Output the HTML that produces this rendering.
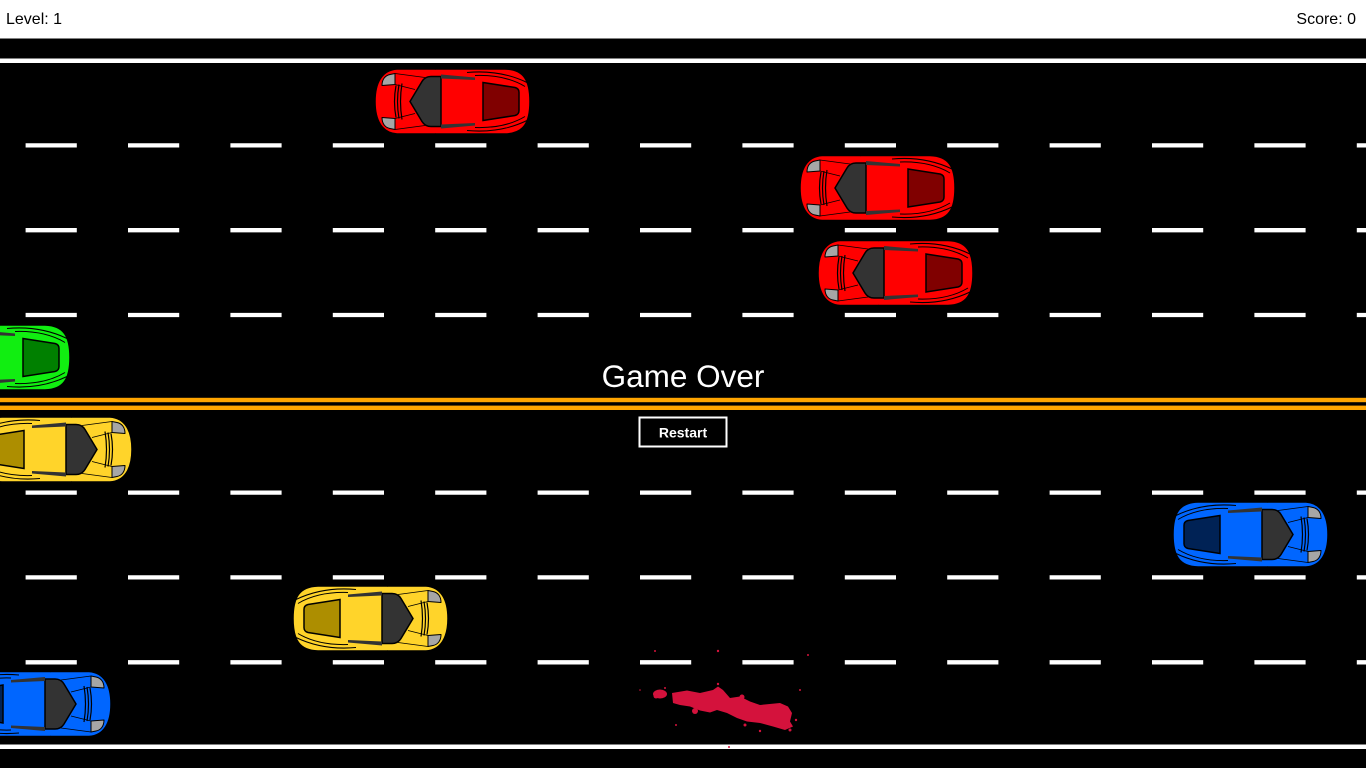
<!DOCTYPE html>
<html><head><meta charset="utf-8"><style>
html,body{margin:0;padding:0;width:1366px;height:768px;overflow:hidden;background:#000}
svg{display:block}
</style></head><body>
<svg width="1366" height="768" viewBox="0 0 1366 768" xmlns="http://www.w3.org/2000/svg">
<defs>
<g id="car">
 <path d="M22,0.5 C7,1.5 0,14 0,33 C0,52 7,64.5 22,65.5 L130,65.5 C149,65 155,54 155,33 C155,12 149,1 130,0.5 Z" style="fill:currentColor" stroke="#000" stroke-width="1.5"/>
 <path d="M7,17 C7,11 10,7 15,6 L20,5 L20,16 Z" fill="#a6a6a6" stroke="#000" stroke-width="1" stroke-linejoin="round"/>
 <path d="M7,49 C7,55 10,59 15,60 L20,61 L20,50 Z" fill="#a6a6a6" stroke="#000" stroke-width="1" stroke-linejoin="round"/>
 <path d="M21,17 Q18,33 21,49 M24,16 Q21,33 24,50 M27,15 Q24,33 27,51" fill="none" stroke="#000" stroke-width="1.2"/>
 <path d="M20,16 L40,21 M20,50 L40,45 M20,5 L50,9 M20,61 L50,57" fill="none" stroke="#000" stroke-width="0.8"/>
 <path d="M35,33 L47,13 Q50,8 56,8 L66,8 L66,58 L56,58 Q50,58 47,53 Z" fill="#333" stroke="#000" stroke-width="1.5"/>
 <path d="M66,6 L100,9 L100,11.5 L66,10 Z" fill="#333"/>
 <path d="M66,60 L100,57 L100,54.5 L66,56 Z" fill="#333"/>
 <path d="M108,14 L140,19 Q144,20 144,24 L144,42 Q144,46 140,47 L108,52 Z" style="fill:var(--rear)" stroke="#000" stroke-width="1.5"/>
 <path d="M92,4 Q125,1 152,14 M100,7 Q130,6 150,18 M92,62 Q125,65 152,52 M100,59 Q130,60 150,48" fill="none" stroke="#000" stroke-width="1"/>
 <path d="M60,1 L63,-4 M60,65 L63,70" stroke="#000" stroke-opacity="0.6" stroke-width="1.5"/>
</g>
</defs>

<!-- header -->
<rect x="0" y="0" width="1366" height="38.5" fill="#fff"/>
<text x="6" y="24" font-family="Liberation Sans, Arial, sans-serif" font-size="16" fill="#000">Level: 1</text>
<text x="1356" y="24" text-anchor="end" font-family="Liberation Sans, Arial, sans-serif" font-size="16" fill="#000">Score: 0</text>

<!-- road edges -->
<rect x="0" y="58.5" width="1366" height="4.5" fill="#fff"/>
<rect x="0" y="744.5" width="1366" height="4.5" fill="#fff"/>
<rect x="0" y="397.8" width="1366" height="4.4" fill="#ffa500"/>
<rect x="0" y="405.6" width="1366" height="4.4" fill="#ffa500"/>

<!-- dashes -->
<g stroke="#fff" stroke-width="4.3" stroke-dasharray="51.2 51.2">
 <line x1="25.6" x2="1366" y1="145.4" y2="145.4"/>
 <line x1="25.6" x2="1366" y1="230.2" y2="230.2"/>
 <line x1="25.6" x2="1366" y1="315" y2="315"/>
 <line x1="25.6" x2="1366" y1="492.6" y2="492.6"/>
 <line x1="25.6" x2="1366" y1="577.4" y2="577.4"/>
 <line x1="25.6" x2="1366" y1="662.3" y2="662.3"/>
</g>

<!-- blood -->
<g fill="#d4123c">
 <path d="M672,693 L687,690.5 L700,693 L713,690 L718,686.5 L723,690 L730,698 L740,696.5 L750,701.5 L760,705 L780,703 L788,706.5 L792,713 L790,721.5 L793,726.5 L785,730 L773,726.5 L760,723 L747,721.5 L737,718 L727,713 L717,710 L710,712.5 L700,710.5 L690,706.5 L680,705 L673,703 Z"/>
 <ellipse cx="660" cy="694" rx="7" ry="4.5"/>
 <circle cx="656" cy="696" r="2.5"/>
 <circle cx="695" cy="711" r="3"/>
 <circle cx="742" cy="697" r="2.5"/>
 <circle cx="745" cy="725" r="1.5"/>
 <circle cx="790" cy="730" r="1.5"/>
 <circle cx="760" cy="731" r="1.2"/>
 <circle cx="718" cy="684" r="1.2"/>
 <circle cx="655" cy="651" r="1"/>
 <circle cx="718" cy="651" r="1.2"/>
 <circle cx="808" cy="655" r="1"/>
 <circle cx="676" cy="725" r="1"/>
 <circle cx="640" cy="690" r="0.8"/>
 <circle cx="800" cy="690" r="1"/>
 <circle cx="729" cy="747" r="1"/>
 <circle cx="796" cy="720" r="1.2"/>
 <circle cx="665" cy="688" r="1"/>
</g>

<!-- cars: top half facing left -->
<use href="#car" transform="translate(375,68.5)" style="color:#ff0000;--rear:#800000"/>
<use href="#car" transform="translate(800,155)" style="color:#ff0000;--rear:#800000"/>
<use href="#car" transform="translate(818,240)" style="color:#ff0000;--rear:#800000"/>
<use href="#car" transform="translate(-85,324.5)" style="color:#11ee11;--rear:#008000"/>
<!-- bottom half facing right -->
<use href="#car" transform="translate(132,416.5) scale(-1,1)" style="color:#ffd42a;--rear:#ad8e00"/>
<use href="#car" transform="translate(1328,501.5) scale(-1,1)" style="color:#0066ff;--rear:#002255"/>
<use href="#car" transform="translate(448,585.5) scale(-1,1)" style="color:#ffd42a;--rear:#ad8e00"/>
<use href="#car" transform="translate(111,671) scale(-1,1)" style="color:#0066ff;--rear:#002255"/>

<!-- game over -->
<text x="683" y="387" text-anchor="middle" font-family="Liberation Sans, Arial, sans-serif" font-size="31.5" fill="#fff">Game Over</text>
<rect x="639.5" y="417.5" width="87" height="29" fill="#000" stroke="#fff" stroke-width="2"/>
<text x="683" y="437.5" text-anchor="middle" font-family="Liberation Sans, Arial, sans-serif" font-size="14" font-weight="bold" fill="#fff">Restart</text>
</svg>
</body></html>
